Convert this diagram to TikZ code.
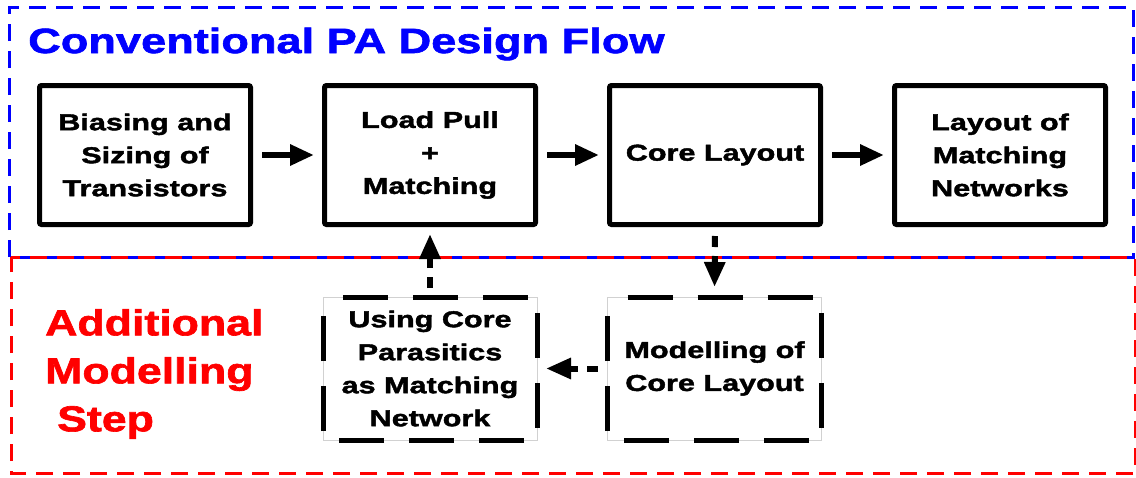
\documentclass[tikz,border=0pt]{standalone}
\usepackage{fontspec}
\setmainfont{Liberation Sans}
\newfontfamily\boxfont[FakeStretch=1.33,FakeBold=1.8]{Liberation Sans}
\newfontfamily\titlefont[FakeStretch=1.29,FakeBold=1.8]{Liberation Sans}
\newfontfamily\redfont[FakeStretch=1.24,FakeBold=1.8]{Liberation Sans}
\usetikzlibrary{arrows.meta}
\definecolor{pablue}{RGB}{0,0,255}
\definecolor{pared}{RGB}{255,0,0}
\begin{document}
\begin{tikzpicture}[x=1pt,y=-1pt,
  boxtext/.style={align=center, font=\boxfont\bfseries\fontsize{23}{33}\selectfont, inner sep=0pt},
  solidbox/.style={boxtext, draw=black, line width=5pt, rounded corners=2pt, fill=white,
    minimum width=211pt, minimum height=139pt},
  dashbox/.style={boxtext, draw=black!18, line width=0.7pt, fill=white, outer sep=0pt,
    minimum width=214pt, minimum height=143pt},
  dashborder/.style={draw=black, line width=5pt, dash pattern=on 45pt off 25pt},
  flow/.style={line width=6pt, -{Triangle[length=24pt,width=20pt]}, shorten <=9pt, shorten >=8pt},
  dflow/.style={line width=6pt, dash pattern=on 11pt off 9pt, -{Triangle[length=25pt,width=20pt]}},
  frame/.style={line width=3pt, dash pattern=on 17pt off 10pt}
  ]
\useasboundingbox (0,0) rectangle (1136,477);
% frames
\coordinate (bA) at (9,257);
\coordinate (bB) at (9,7);
\coordinate (bC) at (1133,7);
\coordinate (bD) at (1133,257);
\coordinate (rA) at (11,257);
\coordinate (rB) at (1135,257);
\coordinate (rC) at (1135,473);
\coordinate (rD) at (11,473);
\draw[frame, draw=pablue] (bA) -- (bB) -- (bC) -- (bD) -- cycle;
\draw[frame, draw=pared, dash phase=8pt] (rA) -- (rB) -- (rC) -- (rD) -- cycle;
% titles
\node[anchor=base west, text=pablue, font=\titlefont\bfseries\fontsize{35}{40}\selectfont, inner sep=0pt]
  (title) at (28,53) {Conventional PA Design Flow};
\node[anchor=west, text=pared, align=left, font=\redfont\bfseries\fontsize{36}{48}\selectfont, inner sep=0pt]
  (addl) at (45,374) {Additional\\Modelling\\\hspace*{12pt}Step};
% top row
\node[solidbox] (b1) at (145,155) {Biasing and\\Sizing of\\Transistors};
\node[solidbox] (b2) at (430,155) {Load Pull\\+\\Matching};
\node[solidbox] (b3) at (715,155) {Core Layout};
\node[solidbox] (b4) at (1000,155) {Layout of\\Matching\\Networks};
% bottom row
\node[dashbox] (b5) at (430,368.5) {Using Core\\Parasitics\\as Matching\\Network};
\node[dashbox] (b6) at (714.5,368.5) {Modelling of\\Core Layout};
\draw[dashborder] ([xshift=20pt]b5.north west) -- (b5.north east) -- (b5.south east) -- (b5.south west) -- (b5.north west);
\draw[dashborder] ([xshift=20pt]b6.north west) -- (b6.north east) -- (b6.south east) -- (b6.south west) -- (b6.north west);
% connectors
\draw[flow] (b1) -- (b2);
\draw[flow] (b2) -- (b3);
\draw[flow] (b3) -- (b4);
\draw[dflow, shorten <=9pt, shorten >=7pt] (b5.north) -- (b2.south);
\draw[dflow, shorten <=9pt, shorten >=10pt] (b3.south) -- (b6.north);
\draw[dflow, shorten <=10pt, shorten >=9pt] (b6.west) -- (b5.east);
\end{tikzpicture}
\end{document}
